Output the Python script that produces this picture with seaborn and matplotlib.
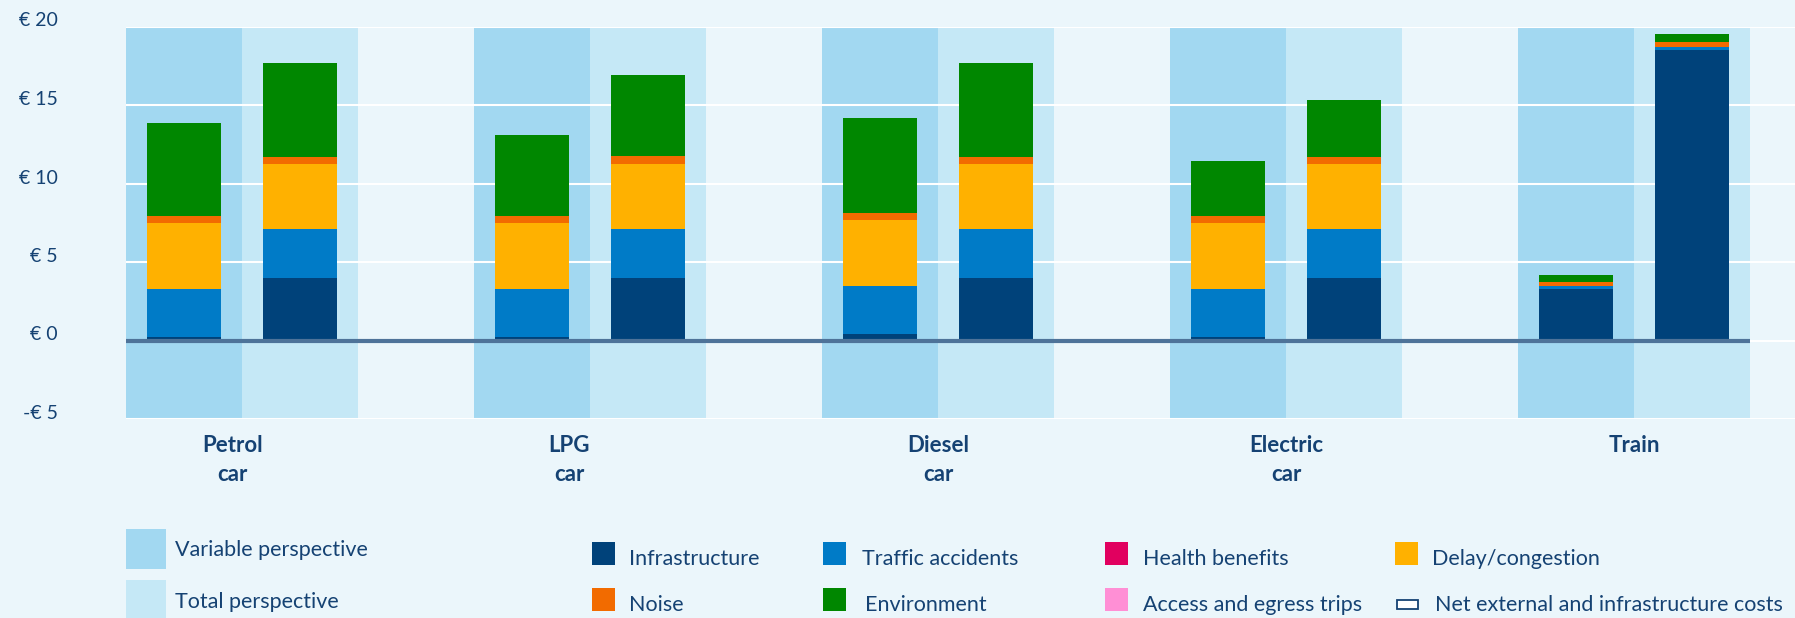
import numpy as np
import pandas as pd
import matplotlib
matplotlib.use("Agg")
import matplotlib.pyplot as plt
import seaborn as sns
from matplotlib.patches import Rectangle
from matplotlib.transforms import ScaledTranslation

# ---------------- data ----------------
categories = ["Petrol\ncar", "LPG\ncar", "Diesel\ncar", "Electric\ncar", "Train"]
perspectives = ["Variable perspective", "Total perspective"]
y_ticks = [-5, 0, 5, 10, 15, 20]
y_tick_labels = ["-€ 5", "€ 0", "€ 5", "€ 10", "€ 15", "€ 20"]

# variable perspective (€ per 100 km-ish units)
infrastructure_var = [0.25, 0.25, 0.40, 0.25, 3.25]
accidents_var      = [3.05, 3.05, 3.10, 3.05, 0.25]
health_var         = [0.0, 0.0, 0.0, 0.0, 0.0]
delay_var          = [4.20, 4.20, 4.20, 4.20, 0.0]
noise_var          = [0.45, 0.45, 0.45, 0.45, 0.20]
environment_var    = [5.90, 5.15, 6.00, 3.50, 0.50]
access_var         = [0.0, 0.0, 0.0, 0.0, 0.0]

# total perspective
infrastructure_tot = [4.00, 4.00, 4.00, 4.00, 18.50]
accidents_tot      = [3.10, 3.10, 3.10, 3.10, 0.20]
health_tot         = [0.0, 0.0, 0.0, 0.0, 0.0]
delay_tot          = [4.15, 4.15, 4.15, 4.15, 0.0]
noise_tot          = [0.45, 0.50, 0.45, 0.45, 0.30]
environment_tot    = [5.95, 5.15, 6.00, 3.60, 0.55]
access_tot         = [0.0, 0.0, 0.0, 0.0, 0.0]

components = ["Infrastructure", "Traffic accidents", "Health benefits",
              "Delay/congestion", "Noise", "Environment", "Access and egress trips"]
values_var = [infrastructure_var, accidents_var, health_var, delay_var,
              noise_var, environment_var, access_var]
values_tot = [infrastructure_tot, accidents_tot, health_tot, delay_tot,
              noise_tot, environment_tot, access_tot]

colors = {
    "Infrastructure": "#00427A",
    "Traffic accidents": "#007BC7",
    "Health benefits": "#E1005F",
    "Delay/congestion": "#FFB100",
    "Noise": "#F26B00",
    "Environment": "#008700",
    "Access and egress trips": "#FF8FD5",
}
BG = "#EBF6FB"
SHADE_VAR = "#A2D8F1"
SHADE_TOT = "#C5E8F6"
TXT = "#154273"
ZERO = "#4E7399"

# ---------------- long-form table ----------------
rows = []
for i, cat in enumerate(categories):
    for j, (persp, vals) in enumerate(zip(perspectives, [values_var, values_tot])):
        pos = 3 * i + j
        cum = 0.0
        for comp, arr in zip(components, vals):
            v = arr[i]
            rows.append(dict(category=cat, perspective=persp, pos=pos,
                             component=comp, value=v, bottom=cum, top=cum + v))
            cum += v
df = pd.DataFrame(rows)

# ---------------- figure ----------------
W, H = 1795, 618
plt.rcParams["font.family"] = ["Lato", "DejaVu Sans"]
fig = plt.figure(figsize=(W / 100, H / 100), dpi=100, facecolor=BG)

def fx(px):
    return px / W

def fy(py):
    return 1 - py / H

ax_left, ax_right = 126, 1795
ax_top, ax_bot = 26.5, 419
ax = fig.add_axes([fx(ax_left), fy(ax_bot), fx(ax_right - ax_left), (ax_bot - ax_top) / H])
ax.set_facecolor(BG)

# shading behind bars
for i in range(len(categories)):
    ax.axvspan(3 * i - 0.5, 3 * i + 0.5, color=SHADE_VAR, lw=0, zorder=0.2)
    ax.axvspan(3 * i + 0.5, 3 * i + 1.5, color=SHADE_TOT, lw=0, zorder=0.2)

# stacked bars: draw cumulative tops from the top segment down
for comp in components[::-1]:
    sub = df[(df.component == comp) & (df.value > 0)]
    if sub.empty:
        continue
    sns.barplot(data=sub, x="pos", y="top", native_scale=True, color=colors[comp],
                saturation=1, width=0.64, errorbar=None, ax=ax, linewidth=0, zorder=2)

ax.hlines(0, -0.52, 13.5, color=ZERO, lw=3, zorder=3)

unit_px = 116
ax.set_xlim(-0.5, -0.5 + (ax_right - ax_left) / unit_px)
ax.set_ylim(-5, 20)
ax.set_yticks(y_ticks)
ax.set_yticklabels(y_tick_labels)
ax.set_xticks([])
ax.set_xlabel("")
ax.set_ylabel("")
for s in ax.spines.values():
    s.set_visible(False)
ax.set_axisbelow(True)
ax.yaxis.grid(True, color="white", lw=1.5, zorder=0.5)
ax.tick_params(axis="y", length=0, pad=49, labelsize=14, labelcolor=TXT)
for lab in ax.get_yticklabels():
    lab.set_transform(lab.get_transform() + ScaledTranslation(0, 7 / 100, fig.dpi_scale_trans))

# category labels
label_offsets = [-0.08, -0.18, 0.0, 0.0, 0.0]
for i, cat in enumerate(categories):
    xc = 3 * i + 0.5 + label_offsets[i]
    xpix = ax_left + (xc + 0.5) * unit_px
    for k, line in enumerate(cat.split("\n")):
        fig.text(fx(xpix), fy(452 + 29 * k), line, ha="center", va="baseline",
                 fontsize=16, fontweight="bold", color=TXT)

# left legend (perspectives)
for k, (lab, col) in enumerate(zip(perspectives, [SHADE_VAR, SHADE_TOT])):
    top = 529 + 51 * k
    fig.add_artist(Rectangle((fx(126), fy(top + 40)), 40 / W, 40 / H,
                             transform=fig.transFigure, color=col, lw=0))
    fig.text(fx(175), fy(556.5 + 51 * k), lab, ha="left", va="baseline",
             fontsize=15.5, color=TXT)

# right legend (components)
legend_grid = [
    ["Infrastructure", "Traffic accidents", "Health benefits", "Delay/congestion"],
    ["Noise", "Environment", "Access and egress trips", "Net external and infrastructure costs"],
]
patch_x = [592, 823, 1105, 1395]
text_x = [[629, 862, 1143, 1432], [629, 865, 1143, 1435]]
for r, row in enumerate(legend_grid):
    top = 542 + 46 * r
    for c, lab in enumerate(row):
        if lab in colors:
            fig.add_artist(Rectangle((fx(patch_x[c]), fy(top + 23)), 23 / W, 23 / H,
                                     transform=fig.transFigure, color=colors[lab], lw=0))
        else:
            fig.add_artist(Rectangle((fx(patch_x[c] + 2), fy(609)), 21 / W, 9 / H,
                                     transform=fig.transFigure, facecolor="white",
                                     edgecolor=TXT, lw=1.3))
        fig.text(fx(text_x[r][c]), fy(top + 23), lab, ha="left", va="baseline",
                 fontsize=15.5, color=TXT)

fig.savefig("out.png", dpi=100, facecolor=BG)
